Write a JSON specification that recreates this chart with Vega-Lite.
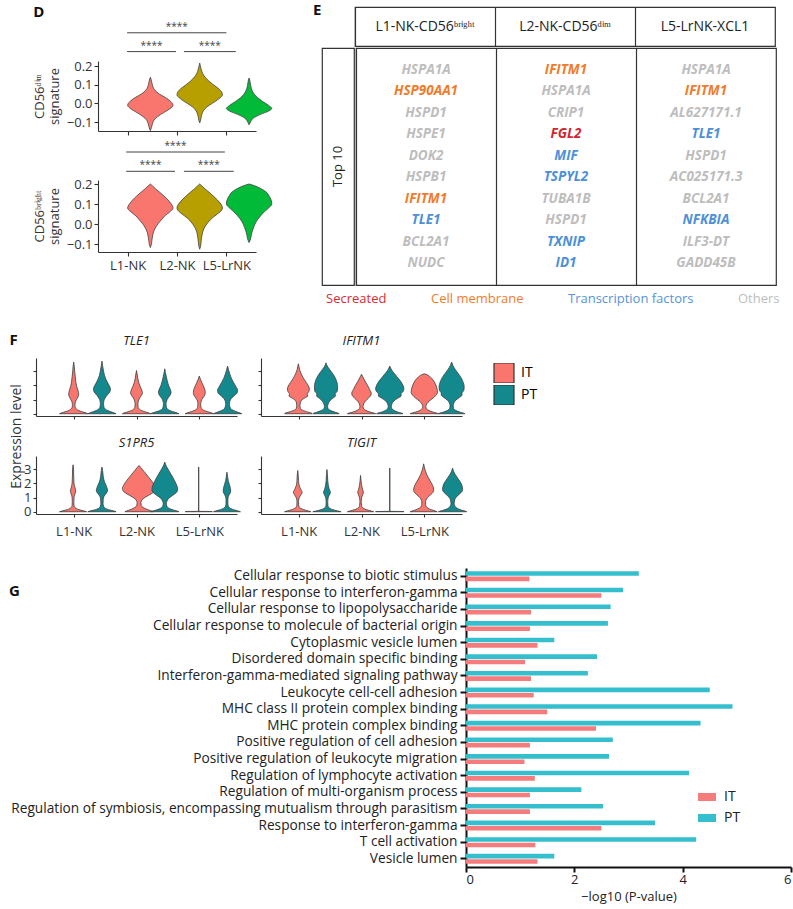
{
"$schema":"https://vega.github.io/schema/vega-lite/v6.json",
"background":"white",
"padding":{"left":2,"top":3,"right":2,"bottom":2},
"config":{
 "view":{"stroke":null},
 "font":"Open Sans",
 "axis":{"grid":false,"domainColor":"#333","tickColor":"#333","labelColor":"#333","titleColor":"#333","labelFont":"Open Sans","titleFont":"Open Sans","titleFontWeight":"normal","domainWidth":1.1,"tickWidth":1.1},
 "title":{"font":"Open Sans","fontWeight":"bold","fontSize":15,"anchor":"start","color":"#111"},
 "legend":{"labelFont":"Open Sans","titleFont":"Open Sans"},
 "text":{"font":"Open Sans"}
},
"datasets":{
 "sig":[
  {"p":"dim","id":1,"a":0.99,"b":1.98,"lvl":1,"s":"****"},
  {"p":"dim","id":2,"a":2.14,"b":3.19,"lvl":1,"s":"****"},
  {"p":"dim","id":3,"a":0.99,"b":3.0,"lvl":2,"s":"****"},
  {"p":"bright","id":4,"a":0.97,"b":1.96,"lvl":1,"s":"****"},
  {"p":"bright","id":5,"a":2.14,"b":3.15,"lvl":1,"s":"****"},
  {"p":"bright","id":6,"a":0.97,"b":2.97,"lvl":2,"s":"****"}
 ],
 "dv":[
  {"p":"dim","c":"L1","y":-0.146,"w":0},{"p":"dim","c":"L1","y":-0.13,"w":0.05},{"p":"dim","c":"L1","y":-0.11,"w":0.09},{"p":"dim","c":"L1","y":-0.09,"w":0.16},{"p":"dim","c":"L1","y":-0.07,"w":0.33},{"p":"dim","c":"L1","y":-0.05,"w":0.58},{"p":"dim","c":"L1","y":-0.03,"w":0.85},{"p":"dim","c":"L1","y":-0.01,"w":1.0},{"p":"dim","c":"L1","y":0.01,"w":0.9},{"p":"dim","c":"L1","y":0.03,"w":0.68},{"p":"dim","c":"L1","y":0.05,"w":0.4},{"p":"dim","c":"L1","y":0.07,"w":0.2},{"p":"dim","c":"L1","y":0.09,"w":0.11},{"p":"dim","c":"L1","y":0.11,"w":0.07},{"p":"dim","c":"L1","y":0.13,"w":0.03},{"p":"dim","c":"L1","y":0.14,"w":0},
  {"p":"dim","c":"L2","y":-0.105,"w":0},{"p":"dim","c":"L2","y":-0.09,"w":0.04},{"p":"dim","c":"L2","y":-0.07,"w":0.07},{"p":"dim","c":"L2","y":-0.05,"w":0.12},{"p":"dim","c":"L2","y":-0.03,"w":0.22},{"p":"dim","c":"L2","y":-0.01,"w":0.42},{"p":"dim","c":"L2","y":0.01,"w":0.68},{"p":"dim","c":"L2","y":0.03,"w":0.9},{"p":"dim","c":"L2","y":0.045,"w":1.0},{"p":"dim","c":"L2","y":0.06,"w":0.97},{"p":"dim","c":"L2","y":0.08,"w":0.82},{"p":"dim","c":"L2","y":0.1,"w":0.6},{"p":"dim","c":"L2","y":0.12,"w":0.4},{"p":"dim","c":"L2","y":0.14,"w":0.24},{"p":"dim","c":"L2","y":0.16,"w":0.13},{"p":"dim","c":"L2","y":0.18,"w":0.07},{"p":"dim","c":"L2","y":0.2,"w":0.03},{"p":"dim","c":"L2","y":0.216,"w":0},
  {"p":"dim","c":"L5","y":-0.115,"w":0},{"p":"dim","c":"L5","y":-0.1,"w":0.06},{"p":"dim","c":"L5","y":-0.08,"w":0.18},{"p":"dim","c":"L5","y":-0.06,"w":0.48},{"p":"dim","c":"L5","y":-0.04,"w":0.88},{"p":"dim","c":"L5","y":-0.028,"w":1.0},{"p":"dim","c":"L5","y":-0.01,"w":0.85},{"p":"dim","c":"L5","y":0.01,"w":0.6},{"p":"dim","c":"L5","y":0.03,"w":0.38},{"p":"dim","c":"L5","y":0.05,"w":0.22},{"p":"dim","c":"L5","y":0.07,"w":0.13},{"p":"dim","c":"L5","y":0.09,"w":0.08},{"p":"dim","c":"L5","y":0.11,"w":0.05},{"p":"dim","c":"L5","y":0.125,"w":0.03},{"p":"dim","c":"L5","y":0.136,"w":0},
  {"p":"bright","c":"L1","y":-0.118,"w":0},{"p":"bright","c":"L1","y":-0.1,"w":0.05},{"p":"bright","c":"L1","y":-0.08,"w":0.07},{"p":"bright","c":"L1","y":-0.06,"w":0.1},{"p":"bright","c":"L1","y":-0.04,"w":0.14},{"p":"bright","c":"L1","y":-0.02,"w":0.22},{"p":"bright","c":"L1","y":0,"w":0.33},{"p":"bright","c":"L1","y":0.02,"w":0.48},{"p":"bright","c":"L1","y":0.04,"w":0.63},{"p":"bright","c":"L1","y":0.06,"w":0.85},{"p":"bright","c":"L1","y":0.08,"w":1.0},{"p":"bright","c":"L1","y":0.1,"w":0.92},{"p":"bright","c":"L1","y":0.12,"w":0.78},{"p":"bright","c":"L1","y":0.14,"w":0.6},{"p":"bright","c":"L1","y":0.16,"w":0.4},{"p":"bright","c":"L1","y":0.175,"w":0.24},{"p":"bright","c":"L1","y":0.19,"w":0.1},{"p":"bright","c":"L1","y":0.2,"w":0},
  {"p":"bright","c":"L2","y":-0.126,"w":0},{"p":"bright","c":"L2","y":-0.11,"w":0.04},{"p":"bright","c":"L2","y":-0.09,"w":0.06},{"p":"bright","c":"L2","y":-0.07,"w":0.08},{"p":"bright","c":"L2","y":-0.05,"w":0.11},{"p":"bright","c":"L2","y":-0.03,"w":0.16},{"p":"bright","c":"L2","y":-0.01,"w":0.25},{"p":"bright","c":"L2","y":0.01,"w":0.38},{"p":"bright","c":"L2","y":0.03,"w":0.55},{"p":"bright","c":"L2","y":0.05,"w":0.78},{"p":"bright","c":"L2","y":0.07,"w":0.97},{"p":"bright","c":"L2","y":0.08,"w":1.0},{"p":"bright","c":"L2","y":0.1,"w":0.93},{"p":"bright","c":"L2","y":0.12,"w":0.78},{"p":"bright","c":"L2","y":0.14,"w":0.6},{"p":"bright","c":"L2","y":0.16,"w":0.4},{"p":"bright","c":"L2","y":0.175,"w":0.24},{"p":"bright","c":"L2","y":0.19,"w":0.1},{"p":"bright","c":"L2","y":0.2,"w":0},
  {"p":"bright","c":"L5","y":-0.093,"w":0},{"p":"bright","c":"L5","y":-0.08,"w":0.05},{"p":"bright","c":"L5","y":-0.06,"w":0.09},{"p":"bright","c":"L5","y":-0.04,"w":0.13},{"p":"bright","c":"L5","y":-0.02,"w":0.19},{"p":"bright","c":"L5","y":0,"w":0.26},{"p":"bright","c":"L5","y":0.02,"w":0.36},{"p":"bright","c":"L5","y":0.04,"w":0.5},{"p":"bright","c":"L5","y":0.06,"w":0.66},{"p":"bright","c":"L5","y":0.08,"w":0.86},{"p":"bright","c":"L5","y":0.1,"w":1.0},{"p":"bright","c":"L5","y":0.12,"w":0.97},{"p":"bright","c":"L5","y":0.14,"w":0.88},{"p":"bright","c":"L5","y":0.16,"w":0.75},{"p":"bright","c":"L5","y":0.175,"w":0.55},{"p":"bright","c":"L5","y":0.185,"w":0.38},{"p":"bright","c":"L5","y":0.195,"w":0.15},{"p":"bright","c":"L5","y":0.2,"w":0}
 ],
 "hdr":[{"col":"L1-NK-CD56ᵇʳⁱᵍʰᵗ"},{"col":"L2-NK-CD56ᵈⁱᵐ"},{"col":"L5-LrNK-XCL1"}],
 "genes":[
  {"col":"L1-NK-CD56ᵇʳⁱᵍʰᵗ","rank":1,"gene":"HSPA1A","type":"Others"},
  {"col":"L1-NK-CD56ᵇʳⁱᵍʰᵗ","rank":2,"gene":"HSP90AA1","type":"Cell membrane"},
  {"col":"L1-NK-CD56ᵇʳⁱᵍʰᵗ","rank":3,"gene":"HSPD1","type":"Others"},
  {"col":"L1-NK-CD56ᵇʳⁱᵍʰᵗ","rank":4,"gene":"HSPE1","type":"Others"},
  {"col":"L1-NK-CD56ᵇʳⁱᵍʰᵗ","rank":5,"gene":"DOK2","type":"Others"},
  {"col":"L1-NK-CD56ᵇʳⁱᵍʰᵗ","rank":6,"gene":"HSPB1","type":"Others"},
  {"col":"L1-NK-CD56ᵇʳⁱᵍʰᵗ","rank":7,"gene":"IFITM1","type":"Cell membrane"},
  {"col":"L1-NK-CD56ᵇʳⁱᵍʰᵗ","rank":8,"gene":"TLE1","type":"Transcription factors"},
  {"col":"L1-NK-CD56ᵇʳⁱᵍʰᵗ","rank":9,"gene":"BCL2A1","type":"Others"},
  {"col":"L1-NK-CD56ᵇʳⁱᵍʰᵗ","rank":10,"gene":"NUDC","type":"Others"},
  {"col":"L2-NK-CD56ᵈⁱᵐ","rank":1,"gene":"IFITM1","type":"Cell membrane"},
  {"col":"L2-NK-CD56ᵈⁱᵐ","rank":2,"gene":"HSPA1A","type":"Others"},
  {"col":"L2-NK-CD56ᵈⁱᵐ","rank":3,"gene":"CRIP1","type":"Others"},
  {"col":"L2-NK-CD56ᵈⁱᵐ","rank":4,"gene":"FGL2","type":"Secreated"},
  {"col":"L2-NK-CD56ᵈⁱᵐ","rank":5,"gene":"MIF","type":"Transcription factors"},
  {"col":"L2-NK-CD56ᵈⁱᵐ","rank":6,"gene":"TSPYL2","type":"Transcription factors"},
  {"col":"L2-NK-CD56ᵈⁱᵐ","rank":7,"gene":"TUBA1B","type":"Others"},
  {"col":"L2-NK-CD56ᵈⁱᵐ","rank":8,"gene":"HSPD1","type":"Others"},
  {"col":"L2-NK-CD56ᵈⁱᵐ","rank":9,"gene":"TXNIP","type":"Transcription factors"},
  {"col":"L2-NK-CD56ᵈⁱᵐ","rank":10,"gene":"ID1","type":"Transcription factors"},
  {"col":"L5-LrNK-XCL1","rank":1,"gene":"HSPA1A","type":"Others"},
  {"col":"L5-LrNK-XCL1","rank":2,"gene":"IFITM1","type":"Cell membrane"},
  {"col":"L5-LrNK-XCL1","rank":3,"gene":"AL627171.1","type":"Others"},
  {"col":"L5-LrNK-XCL1","rank":4,"gene":"TLE1","type":"Transcription factors"},
  {"col":"L5-LrNK-XCL1","rank":5,"gene":"HSPD1","type":"Others"},
  {"col":"L5-LrNK-XCL1","rank":6,"gene":"AC025171.3","type":"Others"},
  {"col":"L5-LrNK-XCL1","rank":7,"gene":"BCL2A1","type":"Others"},
  {"col":"L5-LrNK-XCL1","rank":8,"gene":"NFKBIA","type":"Transcription factors"},
  {"col":"L5-LrNK-XCL1","rank":9,"gene":"ILF3-DT","type":"Others"},
  {"col":"L5-LrNK-XCL1","rank":10,"gene":"GADD45B","type":"Others"}
 ],
 "tle1":[
  {"c":"L1","t":"IT","y":0,"w":0.45},{"c":"L1","t":"IT","y":0.05,"w":0.4},{"c":"L1","t":"IT","y":0.15,"w":0.25},{"c":"L1","t":"IT","y":0.3,"w":0.1},{"c":"L1","t":"IT","y":0.45,"w":0.05},{"c":"L1","t":"IT","y":0.6,"w":0.04},{"c":"L1","t":"IT","y":0.8,"w":0.05},{"c":"L1","t":"IT","y":1.0,"w":0.09},{"c":"L1","t":"IT","y":1.2,"w":0.14},{"c":"L1","t":"IT","y":1.4,"w":0.16},{"c":"L1","t":"IT","y":1.6,"w":0.14},{"c":"L1","t":"IT","y":1.9,"w":0.1},{"c":"L1","t":"IT","y":2.2,"w":0.07},{"c":"L1","t":"IT","y":2.6,"w":0.05},{"c":"L1","t":"IT","y":3.0,"w":0.03},{"c":"L1","t":"IT","y":3.3,"w":0.02},{"c":"L1","t":"IT","y":3.63,"w":0},
  {"c":"L1","t":"PT","y":0,"w":0.45},{"c":"L1","t":"PT","y":0.05,"w":0.4},{"c":"L1","t":"PT","y":0.15,"w":0.27},{"c":"L1","t":"PT","y":0.3,"w":0.12},{"c":"L1","t":"PT","y":0.5,"w":0.06},{"c":"L1","t":"PT","y":0.7,"w":0.05},{"c":"L1","t":"PT","y":0.9,"w":0.06},{"c":"L1","t":"PT","y":1.1,"w":0.1},{"c":"L1","t":"PT","y":1.3,"w":0.16},{"c":"L1","t":"PT","y":1.5,"w":0.24},{"c":"L1","t":"PT","y":1.7,"w":0.27},{"c":"L1","t":"PT","y":1.85,"w":0.26},{"c":"L1","t":"PT","y":2.1,"w":0.2},{"c":"L1","t":"PT","y":2.4,"w":0.13},{"c":"L1","t":"PT","y":2.7,"w":0.08},{"c":"L1","t":"PT","y":3.0,"w":0.05},{"c":"L1","t":"PT","y":3.4,"w":0.02},{"c":"L1","t":"PT","y":3.7,"w":0},
  {"c":"L2","t":"IT","y":0,"w":0.45},{"c":"L2","t":"IT","y":0.05,"w":0.4},{"c":"L2","t":"IT","y":0.15,"w":0.25},{"c":"L2","t":"IT","y":0.3,"w":0.1},{"c":"L2","t":"IT","y":0.5,"w":0.05},{"c":"L2","t":"IT","y":0.7,"w":0.045},{"c":"L2","t":"IT","y":0.9,"w":0.06},{"c":"L2","t":"IT","y":1.1,"w":0.1},{"c":"L2","t":"IT","y":1.3,"w":0.16},{"c":"L2","t":"IT","y":1.48,"w":0.19},{"c":"L2","t":"IT","y":1.65,"w":0.17},{"c":"L2","t":"IT","y":1.9,"w":0.12},{"c":"L2","t":"IT","y":2.2,"w":0.07},{"c":"L2","t":"IT","y":2.5,"w":0.04},{"c":"L2","t":"IT","y":2.8,"w":0.02},{"c":"L2","t":"IT","y":3.04,"w":0},
  {"c":"L2","t":"PT","y":0,"w":0.45},{"c":"L2","t":"PT","y":0.05,"w":0.4},{"c":"L2","t":"PT","y":0.15,"w":0.25},{"c":"L2","t":"PT","y":0.3,"w":0.1},{"c":"L2","t":"PT","y":0.5,"w":0.05},{"c":"L2","t":"PT","y":0.7,"w":0.04},{"c":"L2","t":"PT","y":0.9,"w":0.06},{"c":"L2","t":"PT","y":1.1,"w":0.1},{"c":"L2","t":"PT","y":1.3,"w":0.17},{"c":"L2","t":"PT","y":1.5,"w":0.2},{"c":"L2","t":"PT","y":1.7,"w":0.18},{"c":"L2","t":"PT","y":2.0,"w":0.12},{"c":"L2","t":"PT","y":2.3,"w":0.08},{"c":"L2","t":"PT","y":2.6,"w":0.05},{"c":"L2","t":"PT","y":2.9,"w":0.02},{"c":"L2","t":"PT","y":3.16,"w":0},
  {"c":"L5","t":"IT","y":0,"w":0.45},{"c":"L5","t":"IT","y":0.05,"w":0.4},{"c":"L5","t":"IT","y":0.15,"w":0.25},{"c":"L5","t":"IT","y":0.3,"w":0.1},{"c":"L5","t":"IT","y":0.5,"w":0.05},{"c":"L5","t":"IT","y":0.7,"w":0.045},{"c":"L5","t":"IT","y":0.9,"w":0.06},{"c":"L5","t":"IT","y":1.1,"w":0.11},{"c":"L5","t":"IT","y":1.3,"w":0.17},{"c":"L5","t":"IT","y":1.5,"w":0.19},{"c":"L5","t":"IT","y":1.8,"w":0.16},{"c":"L5","t":"IT","y":2.0,"w":0.12},{"c":"L5","t":"IT","y":2.2,"w":0.08},{"c":"L5","t":"IT","y":2.4,"w":0.04},{"c":"L5","t":"IT","y":2.65,"w":0},
  {"c":"L5","t":"PT","y":0,"w":0.45},{"c":"L5","t":"PT","y":0.05,"w":0.4},{"c":"L5","t":"PT","y":0.15,"w":0.27},{"c":"L5","t":"PT","y":0.3,"w":0.13},{"c":"L5","t":"PT","y":0.45,"w":0.08},{"c":"L5","t":"PT","y":0.65,"w":0.06},{"c":"L5","t":"PT","y":0.85,"w":0.07},{"c":"L5","t":"PT","y":1.05,"w":0.11},{"c":"L5","t":"PT","y":1.25,"w":0.2},{"c":"L5","t":"PT","y":1.45,"w":0.3},{"c":"L5","t":"PT","y":1.65,"w":0.32},{"c":"L5","t":"PT","y":1.9,"w":0.27},{"c":"L5","t":"PT","y":2.2,"w":0.19},{"c":"L5","t":"PT","y":2.5,"w":0.12},{"c":"L5","t":"PT","y":2.8,"w":0.07},{"c":"L5","t":"PT","y":3.1,"w":0.03},{"c":"L5","t":"PT","y":3.35,"w":0}
 ],
 "ifitm1":[
  {"c":"L1","t":"IT","y":0,"w":0.44},{"c":"L1","t":"IT","y":0.04,"w":0.42},{"c":"L1","t":"IT","y":0.12,"w":0.3},{"c":"L1","t":"IT","y":0.25,"w":0.13},{"c":"L1","t":"IT","y":0.4,"w":0.06},{"c":"L1","t":"IT","y":0.55,"w":0.05},{"c":"L1","t":"IT","y":0.75,"w":0.06},{"c":"L1","t":"IT","y":0.95,"w":0.1},{"c":"L1","t":"IT","y":1.1,"w":0.2},{"c":"L1","t":"IT","y":1.25,"w":0.3},{"c":"L1","t":"IT","y":1.38,"w":0.28},{"c":"L1","t":"IT","y":1.55,"w":0.33},{"c":"L1","t":"IT","y":1.75,"w":0.35},{"c":"L1","t":"IT","y":1.95,"w":0.32},{"c":"L1","t":"IT","y":2.2,"w":0.25},{"c":"L1","t":"IT","y":2.5,"w":0.16},{"c":"L1","t":"IT","y":2.8,"w":0.09},{"c":"L1","t":"IT","y":3.1,"w":0.04},{"c":"L1","t":"IT","y":3.35,"w":0.015},{"c":"L1","t":"IT","y":3.51,"w":0},
  {"c":"L1","t":"PT","y":0,"w":0.42},{"c":"L1","t":"PT","y":0.03,"w":0.4},{"c":"L1","t":"PT","y":0.1,"w":0.3},{"c":"L1","t":"PT","y":0.22,"w":0.15},{"c":"L1","t":"PT","y":0.35,"w":0.07},{"c":"L1","t":"PT","y":0.5,"w":0.05},{"c":"L1","t":"PT","y":0.7,"w":0.07},{"c":"L1","t":"PT","y":0.9,"w":0.12},{"c":"L1","t":"PT","y":1.1,"w":0.22},{"c":"L1","t":"PT","y":1.25,"w":0.3},{"c":"L1","t":"PT","y":1.38,"w":0.29},{"c":"L1","t":"PT","y":1.6,"w":0.36},{"c":"L1","t":"PT","y":1.9,"w":0.37},{"c":"L1","t":"PT","y":2.2,"w":0.35},{"c":"L1","t":"PT","y":2.5,"w":0.3},{"c":"L1","t":"PT","y":2.8,"w":0.22},{"c":"L1","t":"PT","y":3.1,"w":0.12},{"c":"L1","t":"PT","y":3.35,"w":0.04},{"c":"L1","t":"PT","y":3.58,"w":0},
  {"c":"L2","t":"IT","y":0,"w":0.45},{"c":"L2","t":"IT","y":0.03,"w":0.42},{"c":"L2","t":"IT","y":0.1,"w":0.3},{"c":"L2","t":"IT","y":0.22,"w":0.15},{"c":"L2","t":"IT","y":0.35,"w":0.07},{"c":"L2","t":"IT","y":0.5,"w":0.05},{"c":"L2","t":"IT","y":0.7,"w":0.07},{"c":"L2","t":"IT","y":0.9,"w":0.13},{"c":"L2","t":"IT","y":1.1,"w":0.22},{"c":"L2","t":"IT","y":1.3,"w":0.3},{"c":"L2","t":"IT","y":1.45,"w":0.31},{"c":"L2","t":"IT","y":1.7,"w":0.26},{"c":"L2","t":"IT","y":2.0,"w":0.19},{"c":"L2","t":"IT","y":2.3,"w":0.11},{"c":"L2","t":"IT","y":2.6,"w":0.04},{"c":"L2","t":"IT","y":2.77,"w":0},
  {"c":"L2","t":"PT","y":0,"w":0.42},{"c":"L2","t":"PT","y":0.03,"w":0.4},{"c":"L2","t":"PT","y":0.1,"w":0.28},{"c":"L2","t":"PT","y":0.22,"w":0.15},{"c":"L2","t":"PT","y":0.35,"w":0.07},{"c":"L2","t":"PT","y":0.5,"w":0.05},{"c":"L2","t":"PT","y":0.7,"w":0.07},{"c":"L2","t":"PT","y":0.9,"w":0.13},{"c":"L2","t":"PT","y":1.1,"w":0.26},{"c":"L2","t":"PT","y":1.25,"w":0.36},{"c":"L2","t":"PT","y":1.4,"w":0.36},{"c":"L2","t":"PT","y":1.55,"w":0.42},{"c":"L2","t":"PT","y":1.75,"w":0.45},{"c":"L2","t":"PT","y":2.0,"w":0.42},{"c":"L2","t":"PT","y":2.3,"w":0.34},{"c":"L2","t":"PT","y":2.6,"w":0.23},{"c":"L2","t":"PT","y":2.9,"w":0.12},{"c":"L2","t":"PT","y":3.15,"w":0.04},{"c":"L2","t":"PT","y":3.35,"w":0},
  {"c":"L5","t":"IT","y":0,"w":0.45},{"c":"L5","t":"IT","y":0.03,"w":0.42},{"c":"L5","t":"IT","y":0.1,"w":0.3},{"c":"L5","t":"IT","y":0.22,"w":0.15},{"c":"L5","t":"IT","y":0.35,"w":0.07},{"c":"L5","t":"IT","y":0.5,"w":0.05},{"c":"L5","t":"IT","y":0.7,"w":0.08},{"c":"L5","t":"IT","y":0.9,"w":0.16},{"c":"L5","t":"IT","y":1.1,"w":0.28},{"c":"L5","t":"IT","y":1.3,"w":0.37},{"c":"L5","t":"IT","y":1.5,"w":0.42},{"c":"L5","t":"IT","y":1.8,"w":0.4},{"c":"L5","t":"IT","y":2.1,"w":0.35},{"c":"L5","t":"IT","y":2.4,"w":0.27},{"c":"L5","t":"IT","y":2.6,"w":0.18},{"c":"L5","t":"IT","y":2.75,"w":0.08},{"c":"L5","t":"IT","y":2.81,"w":0},
  {"c":"L5","t":"PT","y":0,"w":0.42},{"c":"L5","t":"PT","y":0.03,"w":0.4},{"c":"L5","t":"PT","y":0.1,"w":0.28},{"c":"L5","t":"PT","y":0.22,"w":0.14},{"c":"L5","t":"PT","y":0.38,"w":0.06},{"c":"L5","t":"PT","y":0.55,"w":0.05},{"c":"L5","t":"PT","y":0.75,"w":0.07},{"c":"L5","t":"PT","y":0.95,"w":0.13},{"c":"L5","t":"PT","y":1.15,"w":0.25},{"c":"L5","t":"PT","y":1.3,"w":0.33},{"c":"L5","t":"PT","y":1.45,"w":0.33},{"c":"L5","t":"PT","y":1.65,"w":0.39},{"c":"L5","t":"PT","y":1.9,"w":0.4},{"c":"L5","t":"PT","y":2.2,"w":0.37},{"c":"L5","t":"PT","y":2.5,"w":0.31},{"c":"L5","t":"PT","y":2.8,"w":0.22},{"c":"L5","t":"PT","y":3.1,"w":0.12},{"c":"L5","t":"PT","y":3.4,"w":0.04},{"c":"L5","t":"PT","y":3.63,"w":0}
 ],
 "s1pr5":[
  {"c":"L1","t":"IT","y":0,"w":0.43},{"c":"L1","t":"IT","y":0.05,"w":0.35},{"c":"L1","t":"IT","y":0.15,"w":0.18},{"c":"L1","t":"IT","y":0.3,"w":0.06},{"c":"L1","t":"IT","y":0.45,"w":0.03},{"c":"L1","t":"IT","y":0.7,"w":0.025},{"c":"L1","t":"IT","y":1.0,"w":0.03},{"c":"L1","t":"IT","y":1.25,"w":0.06},{"c":"L1","t":"IT","y":1.45,"w":0.085},{"c":"L1","t":"IT","y":1.7,"w":0.06},{"c":"L1","t":"IT","y":2.0,"w":0.03},{"c":"L1","t":"IT","y":2.5,"w":0.02},{"c":"L1","t":"IT","y":3.0,"w":0.015},{"c":"L1","t":"IT","y":3.3,"w":0},
  {"c":"L1","t":"PT","y":0,"w":0.45},{"c":"L1","t":"PT","y":0.04,"w":0.4},{"c":"L1","t":"PT","y":0.12,"w":0.25},{"c":"L1","t":"PT","y":0.25,"w":0.1},{"c":"L1","t":"PT","y":0.4,"w":0.05},{"c":"L1","t":"PT","y":0.6,"w":0.035},{"c":"L1","t":"PT","y":0.85,"w":0.04},{"c":"L1","t":"PT","y":1.1,"w":0.07},{"c":"L1","t":"PT","y":1.3,"w":0.14},{"c":"L1","t":"PT","y":1.5,"w":0.18},{"c":"L1","t":"PT","y":1.8,"w":0.14},{"c":"L1","t":"PT","y":2.1,"w":0.08},{"c":"L1","t":"PT","y":2.5,"w":0.04},{"c":"L1","t":"PT","y":2.9,"w":0.02},{"c":"L1","t":"PT","y":3.14,"w":0},
  {"c":"L2","t":"IT","y":0,"w":0.45},{"c":"L2","t":"IT","y":0.05,"w":0.4},{"c":"L2","t":"IT","y":0.15,"w":0.27},{"c":"L2","t":"IT","y":0.3,"w":0.13},{"c":"L2","t":"IT","y":0.45,"w":0.07},{"c":"L2","t":"IT","y":0.65,"w":0.06},{"c":"L2","t":"IT","y":0.85,"w":0.1},{"c":"L2","t":"IT","y":1.05,"w":0.22},{"c":"L2","t":"IT","y":1.25,"w":0.38},{"c":"L2","t":"IT","y":1.45,"w":0.5},{"c":"L2","t":"IT","y":1.65,"w":0.53},{"c":"L2","t":"IT","y":1.9,"w":0.48},{"c":"L2","t":"IT","y":2.2,"w":0.39},{"c":"L2","t":"IT","y":2.5,"w":0.28},{"c":"L2","t":"IT","y":2.8,"w":0.17},{"c":"L2","t":"IT","y":3.1,"w":0.06},{"c":"L2","t":"IT","y":3.25,"w":0},
  {"c":"L2","t":"PT","y":0,"w":0.45},{"c":"L2","t":"PT","y":0.03,"w":0.42},{"c":"L2","t":"PT","y":0.1,"w":0.3},{"c":"L2","t":"PT","y":0.22,"w":0.15},{"c":"L2","t":"PT","y":0.38,"w":0.07},{"c":"L2","t":"PT","y":0.55,"w":0.05},{"c":"L2","t":"PT","y":0.75,"w":0.07},{"c":"L2","t":"PT","y":0.95,"w":0.13},{"c":"L2","t":"PT","y":1.15,"w":0.25},{"c":"L2","t":"PT","y":1.35,"w":0.37},{"c":"L2","t":"PT","y":1.55,"w":0.41},{"c":"L2","t":"PT","y":1.8,"w":0.39},{"c":"L2","t":"PT","y":2.1,"w":0.33},{"c":"L2","t":"PT","y":2.4,"w":0.26},{"c":"L2","t":"PT","y":2.7,"w":0.18},{"c":"L2","t":"PT","y":3.0,"w":0.1},{"c":"L2","t":"PT","y":3.3,"w":0.03},{"c":"L2","t":"PT","y":3.49,"w":0},
  {"c":"L5","t":"IT","y":0,"w":0.43},{"c":"L5","t":"IT","y":0.012,"w":0.43},{"c":"L5","t":"IT","y":0.03,"w":0.003},{"c":"L5","t":"IT","y":3.14,"w":0.003},
  {"c":"L5","t":"PT","y":0,"w":0.43},{"c":"L5","t":"PT","y":0.04,"w":0.38},{"c":"L5","t":"PT","y":0.12,"w":0.25},{"c":"L5","t":"PT","y":0.25,"w":0.1},{"c":"L5","t":"PT","y":0.4,"w":0.045},{"c":"L5","t":"PT","y":0.6,"w":0.03},{"c":"L5","t":"PT","y":0.85,"w":0.03},{"c":"L5","t":"PT","y":1.1,"w":0.05},{"c":"L5","t":"PT","y":1.3,"w":0.1},{"c":"L5","t":"PT","y":1.48,"w":0.12},{"c":"L5","t":"PT","y":1.65,"w":0.11},{"c":"L5","t":"PT","y":1.9,"w":0.08},{"c":"L5","t":"PT","y":2.2,"w":0.04},{"c":"L5","t":"PT","y":2.5,"w":0.02},{"c":"L5","t":"PT","y":2.78,"w":0}
 ],
 "tigit":[
  {"c":"L1","t":"IT","y":0,"w":0.42},{"c":"L1","t":"IT","y":0.05,"w":0.34},{"c":"L1","t":"IT","y":0.15,"w":0.18},{"c":"L1","t":"IT","y":0.3,"w":0.06},{"c":"L1","t":"IT","y":0.45,"w":0.03},{"c":"L1","t":"IT","y":0.7,"w":0.025},{"c":"L1","t":"IT","y":0.95,"w":0.04},{"c":"L1","t":"IT","y":1.15,"w":0.09},{"c":"L1","t":"IT","y":1.35,"w":0.14},{"c":"L1","t":"IT","y":1.6,"w":0.09},{"c":"L1","t":"IT","y":1.9,"w":0.04},{"c":"L1","t":"IT","y":2.2,"w":0.025},{"c":"L1","t":"IT","y":2.6,"w":0.015},{"c":"L1","t":"IT","y":2.9,"w":0},
  {"c":"L1","t":"PT","y":0,"w":0.45},{"c":"L1","t":"PT","y":0.05,"w":0.35},{"c":"L1","t":"PT","y":0.15,"w":0.18},{"c":"L1","t":"PT","y":0.3,"w":0.06},{"c":"L1","t":"PT","y":0.45,"w":0.03},{"c":"L1","t":"PT","y":0.7,"w":0.025},{"c":"L1","t":"PT","y":0.95,"w":0.035},{"c":"L1","t":"PT","y":1.15,"w":0.07},{"c":"L1","t":"PT","y":1.35,"w":0.11},{"c":"L1","t":"PT","y":1.6,"w":0.07},{"c":"L1","t":"PT","y":1.9,"w":0.04},{"c":"L1","t":"PT","y":2.2,"w":0.025},{"c":"L1","t":"PT","y":2.6,"w":0.015},{"c":"L1","t":"PT","y":2.97,"w":0},
  {"c":"L2","t":"IT","y":0,"w":0.42},{"c":"L2","t":"IT","y":0.05,"w":0.34},{"c":"L2","t":"IT","y":0.15,"w":0.18},{"c":"L2","t":"IT","y":0.3,"w":0.06},{"c":"L2","t":"IT","y":0.45,"w":0.03},{"c":"L2","t":"IT","y":0.7,"w":0.02},{"c":"L2","t":"IT","y":0.95,"w":0.03},{"c":"L2","t":"IT","y":1.15,"w":0.06},{"c":"L2","t":"IT","y":1.35,"w":0.09},{"c":"L2","t":"IT","y":1.6,"w":0.06},{"c":"L2","t":"IT","y":1.9,"w":0.03},{"c":"L2","t":"IT","y":2.2,"w":0.015},{"c":"L2","t":"IT","y":2.55,"w":0},
  {"c":"L2","t":"PT","y":0,"w":0.45},{"c":"L2","t":"PT","y":0.012,"w":0.45},{"c":"L2","t":"PT","y":0.03,"w":0.003},{"c":"L2","t":"PT","y":3.07,"w":0.003},
  {"c":"L5","t":"IT","y":0,"w":0.43},{"c":"L5","t":"IT","y":0.08,"w":0.33},{"c":"L5","t":"IT","y":0.2,"w":0.18},{"c":"L5","t":"IT","y":0.35,"w":0.09},{"c":"L5","t":"IT","y":0.5,"w":0.06},{"c":"L5","t":"IT","y":0.7,"w":0.06},{"c":"L5","t":"IT","y":0.9,"w":0.09},{"c":"L5","t":"IT","y":1.1,"w":0.17},{"c":"L5","t":"IT","y":1.3,"w":0.27},{"c":"L5","t":"IT","y":1.5,"w":0.32},{"c":"L5","t":"IT","y":1.7,"w":0.31},{"c":"L5","t":"IT","y":2.0,"w":0.25},{"c":"L5","t":"IT","y":2.3,"w":0.17},{"c":"L5","t":"IT","y":2.6,"w":0.1},{"c":"L5","t":"IT","y":2.9,"w":0.05},{"c":"L5","t":"IT","y":3.15,"w":0.02},{"c":"L5","t":"IT","y":3.37,"w":0},
  {"c":"L5","t":"PT","y":0,"w":0.45},{"c":"L5","t":"PT","y":0.03,"w":0.42},{"c":"L5","t":"PT","y":0.1,"w":0.3},{"c":"L5","t":"PT","y":0.22,"w":0.16},{"c":"L5","t":"PT","y":0.38,"w":0.08},{"c":"L5","t":"PT","y":0.55,"w":0.05},{"c":"L5","t":"PT","y":0.75,"w":0.06},{"c":"L5","t":"PT","y":0.95,"w":0.09},{"c":"L5","t":"PT","y":1.15,"w":0.17},{"c":"L5","t":"PT","y":1.35,"w":0.27},{"c":"L5","t":"PT","y":1.55,"w":0.32},{"c":"L5","t":"PT","y":1.75,"w":0.31},{"c":"L5","t":"PT","y":2.0,"w":0.27},{"c":"L5","t":"PT","y":2.3,"w":0.18},{"c":"L5","t":"PT","y":2.6,"w":0.09},{"c":"L5","t":"PT","y":2.85,"w":0.03},{"c":"L5","t":"PT","y":3.07,"w":0}
 ],
 "go":[
  {"term":"Cellular response to biotic stimulus","tissue":"PT","val":3.19},{"term":"Cellular response to biotic stimulus","tissue":"IT","val":1.17},
  {"term":"Cellular response to interferon-gamma","tissue":"PT","val":2.9},{"term":"Cellular response to interferon-gamma","tissue":"IT","val":2.5},
  {"term":"Cellular response to lipopolysaccharide","tissue":"PT","val":2.67},{"term":"Cellular response to lipopolysaccharide","tissue":"IT","val":1.2},
  {"term":"Cellular response to molecule of bacterial origin","tissue":"PT","val":2.62},{"term":"Cellular response to molecule of bacterial origin","tissue":"IT","val":1.18},
  {"term":"Cytoplasmic vesicle lumen","tissue":"PT","val":1.63},{"term":"Cytoplasmic vesicle lumen","tissue":"IT","val":1.32},
  {"term":"Disordered domain specific binding","tissue":"PT","val":2.42},{"term":"Disordered domain specific binding","tissue":"IT","val":1.09},
  {"term":"Interferon-gamma-mediated signaling pathway","tissue":"PT","val":2.25},{"term":"Interferon-gamma-mediated signaling pathway","tissue":"IT","val":1.2},
  {"term":"Leukocyte cell-cell adhesion","tissue":"PT","val":4.5},{"term":"Leukocyte cell-cell adhesion","tissue":"IT","val":1.25},
  {"term":"MHC class II protein complex binding","tissue":"PT","val":4.92},{"term":"MHC class II protein complex binding","tissue":"IT","val":1.5},
  {"term":"MHC protein complex binding","tissue":"PT","val":4.33},{"term":"MHC protein complex binding","tissue":"IT","val":2.4},
  {"term":"Positive regulation of cell adhesion","tissue":"PT","val":2.71},{"term":"Positive regulation of cell adhesion","tissue":"IT","val":1.18},
  {"term":"Positive regulation of leukocyte migration","tissue":"PT","val":2.64},{"term":"Positive regulation of leukocyte migration","tissue":"IT","val":1.08},
  {"term":"Regulation of lymphocyte activation","tissue":"PT","val":4.12},{"term":"Regulation of lymphocyte activation","tissue":"IT","val":1.27},
  {"term":"Regulation of multi-organism process","tissue":"PT","val":2.13},{"term":"Regulation of multi-organism process","tissue":"IT","val":1.18},
  {"term":"Regulation of symbiosis, encompassing mutualism through parasitism","tissue":"PT","val":2.53},{"term":"Regulation of symbiosis, encompassing mutualism through parasitism","tissue":"IT","val":1.18},
  {"term":"Response to interferon-gamma","tissue":"PT","val":3.49},{"term":"Response to interferon-gamma","tissue":"IT","val":2.5},
  {"term":"T cell activation","tissue":"PT","val":4.25},{"term":"T cell activation","tissue":"IT","val":1.28},
  {"term":"Vesicle lumen","tissue":"PT","val":1.63},{"term":"Vesicle lumen","tissue":"IT","val":1.32}
 ]
},
"align":"none",
"spacing":27,
"resolve":{"scale":{"color":"independent"},"legend":{"color":"independent"}},
"vconcat":[
 {"spacing":39,
  "resolve":{"scale":{"color":"independent"},"legend":{"color":"independent"}},
  "hconcat":[
   {"hconcat":[
     {"width":1,"height":1,"data":{"values":[{"z":0}]},"mark":{"type":"point","opacity":0},"encoding":{}},
     {"spacing":0,
      "title":{"text":"D","offset":-13},
      "vconcat":[
       {"width":158,"height":14,"data":{"values":[{"z":0}]},"mark":{"type":"point","opacity":0},"encoding":{}},
       {"width":158,"height":33,"data":{"name":"sig"},"transform":[{"filter":"datum.p=='dim'"}],
        "layer":[
         {"mark":{"type":"rule","color":"#444","strokeWidth":1},"encoding":{"x":{"field":"a","type":"quantitative","scale":{"domain":[0.4,3.6],"nice":false,"zero":false},"axis":null},"x2":{"field":"b"},"y":{"field":"lvl","type":"quantitative","scale":{"domain":[0.553,2.308],"nice":false,"zero":false},"axis":null}}},
         {"transform":[{"fold":["a","b"],"as":["k","xv"]},{"aggregate":[{"op":"mean","field":"xv","as":"xm"}],"groupby":["lvl","s","id"]}],
          "mark":{"type":"text","baseline":"bottom","dy":-1,"fontSize":10,"color":"#444"},
          "encoding":{"x":{"field":"xm","type":"quantitative"},"y":{"field":"lvl","type":"quantitative"},"text":{"field":"s"}}}
        ]},
       {"width":158,"height":70,"data":{"name":"dv"},"transform":[{"filter":"datum.p=='dim'"}],
        "resolve":{"scale":{"x":"independent"}},
        "encoding":{"y":{"field":"y","type":"quantitative","scale":{"domain":[-0.148,0.227],"nice":false,"zero":false},"axis":{"values":[-0.1,0,0.1,0.2],"format":".1f","title":["CD56ᵈⁱᵐ","signature"],"tickSize":4,"labelFontSize":13,"titleFontSize":13,"titlePadding":5,"labelPadding":2}}},
        "layer":[
         {"transform":[{"filter":"datum.c=='L1'"}],"mark":{"type":"area","orient":"horizontal","interpolate":"monotone","fill":"#F8766D","stroke":"#444","strokeWidth":0.8},
          "encoding":{"x":{"field":"w","type":"quantitative","stack":"center","impute":null,"scale":{"domain":[-0.6522,2.8261],"nice":false,"zero":false},"axis":{"values":[0,1.087,2.174],"labels":false,"tickSize":4,"title":null}}}},
         {"transform":[{"filter":"datum.c=='L2'"}],"mark":{"type":"area","orient":"horizontal","interpolate":"monotone","fill":"#B79F00","stroke":"#444","strokeWidth":0.8},
          "encoding":{"x":{"field":"w","type":"quantitative","stack":"center","impute":null,"scale":{"domain":[-1.7391,1.7391],"nice":false,"zero":false},"axis":null}}},
         {"transform":[{"filter":"datum.c=='L5'"}],"mark":{"type":"area","orient":"horizontal","interpolate":"monotone","fill":"#00BA38","stroke":"#444","strokeWidth":0.8},
          "encoding":{"x":{"field":"w","type":"quantitative","stack":"center","impute":null,"scale":{"domain":[-2.8261,0.6522],"nice":false,"zero":false},"axis":null}}}
        ]},
       {"width":158,"height":41,"data":{"name":"sig"},"transform":[{"filter":"datum.p=='bright'"}],
        "layer":[
         {"mark":{"type":"rule","color":"#444","strokeWidth":1},"encoding":{"x":{"field":"a","type":"quantitative","scale":{"domain":[0.4,3.6],"nice":false,"zero":false},"axis":null},"x2":{"field":"b"},"y":{"field":"lvl","type":"quantitative","scale":{"domain":[0.705,2.829],"nice":false,"zero":false},"axis":null}}},
         {"transform":[{"fold":["a","b"],"as":["k","xv"]},{"aggregate":[{"op":"mean","field":"xv","as":"xm"}],"groupby":["lvl","s","id"]}],
          "mark":{"type":"text","baseline":"bottom","dy":-1,"fontSize":10,"color":"#444"},
          "encoding":{"x":{"field":"xm","type":"quantitative"},"y":{"field":"lvl","type":"quantitative"},"text":{"field":"s"}}}
        ]},
       {"width":158,"height":72,"data":{"name":"dv"},"transform":[{"filter":"datum.p=='bright'"}],
        "resolve":{"scale":{"x":"independent"}},
        "encoding":{"y":{"field":"y","type":"quantitative","scale":{"domain":[-0.14,0.22],"nice":false,"zero":false},"axis":{"values":[-0.1,0,0.1,0.2],"format":".1f","title":["CD56ᵇʳⁱᵍʰᵗ","signature"],"tickSize":4,"labelFontSize":13,"titleFontSize":13,"titlePadding":5,"labelPadding":2}}},
        "layer":[
         {"transform":[{"filter":"datum.c=='L1'"}],"mark":{"type":"area","orient":"horizontal","interpolate":"monotone","fill":"#F8766D","stroke":"#444","strokeWidth":0.8},
          "encoding":{"x":{"field":"w","type":"quantitative","stack":"center","impute":null,"scale":{"domain":[-0.6522,2.8261],"nice":false,"zero":false},"axis":{"values":[0,1.087,2.174],"labelExpr":"datum.value<0.5?'L1-NK':datum.value<1.5?'L2-NK':'L5-LrNK'","tickSize":4,"title":null,"labelFontSize":13,"labelPadding":3}}}},
         {"transform":[{"filter":"datum.c=='L2'"}],"mark":{"type":"area","orient":"horizontal","interpolate":"monotone","fill":"#B79F00","stroke":"#444","strokeWidth":0.8},
          "encoding":{"x":{"field":"w","type":"quantitative","stack":"center","impute":null,"scale":{"domain":[-1.7391,1.7391],"nice":false,"zero":false},"axis":null}}},
         {"transform":[{"filter":"datum.c=='L5'"}],"mark":{"type":"area","orient":"horizontal","interpolate":"monotone","fill":"#00BA38","stroke":"#444","strokeWidth":0.8},
          "encoding":{"x":{"field":"w","type":"quantitative","stack":"center","impute":null,"scale":{"domain":[-2.8261,0.6522],"nice":false,"zero":false},"axis":null}}}
        ]}
      ]}
   ],"spacing":24},
   {"spacing":0,
    "title":{"text":"E","offset":-12},
    "resolve":{"scale":{"color":"independent"},"legend":{"color":"independent"}},
    "vconcat":[
     {"spacing":0,"hconcat":[
       {"width":32,"height":39,"data":{"values":[{"z":0}]},"mark":{"type":"point","opacity":0},"encoding":{}},
       {"width":420,"height":39,"view":{"stroke":"#333","strokeWidth":1.2},"data":{"name":"hdr"},
        "mark":{"type":"text","fontSize":14,"color":"#222"},
        "encoding":{"x":{"field":"col","type":"nominal","sort":null,"scale":{"type":"band","paddingInner":0,"paddingOuter":0},"axis":{"grid":true,"bandPosition":0,"domain":false,"ticks":false,"labels":false,"title":null,"gridColor":"#333","gridWidth":1.2}},"text":{"field":"col"}}}
     ]},
     {"spacing":0,
      "resolve":{"scale":{"color":"shared"},"legend":{"color":"shared"}},
      "hconcat":[
       {"width":32,"height":237,"view":{"stroke":"#333","strokeWidth":1.2},"data":{"values":[{"t":"Top 10"}]},
        "mark":{"type":"text","angle":270,"fontSize":13,"color":"#222"},"encoding":{"text":{"field":"t"}}},
       {"width":420,"height":237,"view":{"stroke":"#333","strokeWidth":1.2},"data":{"name":"genes"},
        "mark":{"type":"text","fontSize":13.5,"fontWeight":"bold","fontStyle":"italic"},
        "encoding":{
         "x":{"field":"col","type":"nominal","sort":null,"scale":{"type":"band","paddingInner":0,"paddingOuter":0},"axis":{"grid":true,"bandPosition":0,"domain":false,"ticks":false,"labels":false,"title":null,"gridColor":"#333","gridWidth":1.2}},
         "y":{"field":"rank","type":"ordinal","scale":{"type":"point","padding":1.62},"axis":null},
         "text":{"field":"gene"},
         "color":{"field":"type","type":"nominal","scale":{"domain":["Secreated","Cell membrane","Transcription factors","Others"],"range":["#D0262F","#F07B28","#4B90D8","#BDBDBD"]},
          "legend":{"orient":"none","legendX":-9,"legendY":244,"direction":"horizontal","title":null,"symbolSize":0,"symbolStrokeWidth":0,"symbolOpacity":0,"labelOffset":0,"columnPadding":31,"labelFontSize":13,
           "encode":{"labels":{"update":{"fill":{"signal":"datum.label=='Secreated'?'#DA2B35':datum.label=='Cell membrane'?'#F07D2B':datum.label=='Transcription factors'?'#5595D9':'#BDBDBD'"}}}}}}
        }}
     ]}
    ]}
 ]},
 {"spacing":0,
  "resolve":{"scale":{"color":"independent"},"legend":{"color":"independent"}},
  "hconcat":[
  {"width":1,"height":1,"data":{"values":[{"z":0}]},"mark":{"type":"point","opacity":0},"encoding":{}},
  {"title":{"text":"F","offset":-13},
  "resolve":{"scale":{"color":"independent"},"legend":{"color":"independent"}},
  "vconcat":[
   {"title":{"text":"Expression level","orient":"left","anchor":"middle","fontSize":14,"fontWeight":"normal","color":"#333","offset":0},
    "resolve":{"scale":{"color":"independent"},"legend":{"color":"independent"}},
    "columns":2,
    "spacing":{"row":17,"column":13},
    "concat":[
   {"title":{"text":"TLE1","anchor":"middle","fontStyle":"italic","fontWeight":"normal","fontSize":13,"color":"#222","offset":10},
    "width":201,"height":58,"data":{"name":"tle1"},
    "resolve":{"scale":{"x":"independent"}},
    "encoding":{
     "y":{"field":"y","type":"quantitative","scale":{"domain":[-0.16,3.92],"nice":false,"zero":false},"axis":{"values":[0,1,2,3],"labels":false,"tickSize":3,"title":null}},
     "color":{"field":"t","type":"nominal","scale":{"domain":["IT","PT"],"range":["#F8766D","#13898D"]},"legend":null}
    },
    "layer":[
     {"transform":[{"filter":"datum.c=='L1'&&datum.t=='IT'"}],"mark":{"type":"area","orient":"horizontal","interpolate":"monotone","stroke":"#3d3d3d","strokeWidth":0.8},"encoding":{"x":{"field":"w","type":"quantitative","stack":"center","impute":null,"scale":{"domain":[-0.375,2.825],"nice":false,"zero":false},"axis":{"values":[0.225,1.225,2.225],"labels":false,"tickSize":3,"title":null}}}},
     {"transform":[{"filter":"datum.c=='L1'&&datum.t=='PT'"}],"mark":{"type":"area","orient":"horizontal","interpolate":"monotone","stroke":"#3d3d3d","strokeWidth":0.8},"encoding":{"x":{"field":"w","type":"quantitative","stack":"center","impute":null,"scale":{"domain":[-0.825,2.375],"nice":false,"zero":false},"axis":null}}},
     {"transform":[{"filter":"datum.c=='L2'&&datum.t=='IT'"}],"mark":{"type":"area","orient":"horizontal","interpolate":"monotone","stroke":"#3d3d3d","strokeWidth":0.8},"encoding":{"x":{"field":"w","type":"quantitative","stack":"center","impute":null,"scale":{"domain":[-1.375,1.825],"nice":false,"zero":false},"axis":null}}},
     {"transform":[{"filter":"datum.c=='L2'&&datum.t=='PT'"}],"mark":{"type":"area","orient":"horizontal","interpolate":"monotone","stroke":"#3d3d3d","strokeWidth":0.8},"encoding":{"x":{"field":"w","type":"quantitative","stack":"center","impute":null,"scale":{"domain":[-1.825,1.375],"nice":false,"zero":false},"axis":null}}},
     {"transform":[{"filter":"datum.c=='L5'&&datum.t=='IT'"}],"mark":{"type":"area","orient":"horizontal","interpolate":"monotone","stroke":"#3d3d3d","strokeWidth":0.8},"encoding":{"x":{"field":"w","type":"quantitative","stack":"center","impute":null,"scale":{"domain":[-2.375,0.825],"nice":false,"zero":false},"axis":null}}},
     {"transform":[{"filter":"datum.c=='L5'&&datum.t=='PT'"}],"mark":{"type":"area","orient":"horizontal","interpolate":"monotone","stroke":"#3d3d3d","strokeWidth":0.8},"encoding":{"x":{"field":"w","type":"quantitative","stack":"center","impute":null,"scale":{"domain":[-2.825,0.375],"nice":false,"zero":false},"axis":null}}}
    ]},
   {"title":{"text":"IFITM1","anchor":"middle","fontStyle":"italic","fontWeight":"normal","fontSize":13,"color":"#222","offset":10},
    "width":201,"height":58,"data":{"name":"ifitm1"},
    "resolve":{"scale":{"x":"independent"}},
    "encoding":{
     "y":{"field":"y","type":"quantitative","scale":{"domain":[-0.16,3.92],"nice":false,"zero":false},"axis":{"values":[0,1,2,3],"labels":false,"tickSize":3,"title":null}},
     "color":{"field":"t","type":"nominal","scale":{"domain":["IT","PT"],"range":["#F8766D","#13898D"]},"legend":{"orient":"none","legendX":232,"legendY":5,"title":null,"symbolType":"square","symbolSize":400,"symbolStrokeColor":"#333","symbolStrokeWidth":1.2,"symbolOpacity":1,"labelFontSize":14,"labelOffset":6,"rowPadding":2,"clipHeight":20}}
    },
    "layer":[
     {"transform":[{"filter":"datum.c=='L1'&&datum.t=='IT'"}],"mark":{"type":"area","orient":"horizontal","interpolate":"monotone","stroke":"#3d3d3d","strokeWidth":0.8},"encoding":{"x":{"field":"w","type":"quantitative","stack":"center","impute":null,"scale":{"domain":[-0.375,2.825],"nice":false,"zero":false},"axis":{"values":[0.225,1.225,2.225],"labels":false,"tickSize":3,"title":null}}}},
     {"transform":[{"filter":"datum.c=='L1'&&datum.t=='PT'"}],"mark":{"type":"area","orient":"horizontal","interpolate":"monotone","stroke":"#3d3d3d","strokeWidth":0.8},"encoding":{"x":{"field":"w","type":"quantitative","stack":"center","impute":null,"scale":{"domain":[-0.825,2.375],"nice":false,"zero":false},"axis":null}}},
     {"transform":[{"filter":"datum.c=='L2'&&datum.t=='IT'"}],"mark":{"type":"area","orient":"horizontal","interpolate":"monotone","stroke":"#3d3d3d","strokeWidth":0.8},"encoding":{"x":{"field":"w","type":"quantitative","stack":"center","impute":null,"scale":{"domain":[-1.375,1.825],"nice":false,"zero":false},"axis":null}}},
     {"transform":[{"filter":"datum.c=='L2'&&datum.t=='PT'"}],"mark":{"type":"area","orient":"horizontal","interpolate":"monotone","stroke":"#3d3d3d","strokeWidth":0.8},"encoding":{"x":{"field":"w","type":"quantitative","stack":"center","impute":null,"scale":{"domain":[-1.825,1.375],"nice":false,"zero":false},"axis":null}}},
     {"transform":[{"filter":"datum.c=='L5'&&datum.t=='IT'"}],"mark":{"type":"area","orient":"horizontal","interpolate":"monotone","stroke":"#3d3d3d","strokeWidth":0.8},"encoding":{"x":{"field":"w","type":"quantitative","stack":"center","impute":null,"scale":{"domain":[-2.375,0.825],"nice":false,"zero":false},"axis":null}}},
     {"transform":[{"filter":"datum.c=='L5'&&datum.t=='PT'"}],"mark":{"type":"area","orient":"horizontal","interpolate":"monotone","stroke":"#3d3d3d","strokeWidth":0.8},"encoding":{"x":{"field":"w","type":"quantitative","stack":"center","impute":null,"scale":{"domain":[-2.825,0.375],"nice":false,"zero":false},"axis":null}}}
    ]},
   {"title":{"text":"S1PR5","anchor":"middle","fontStyle":"italic","fontWeight":"normal","fontSize":13,"color":"#222","offset":6},
    "width":201,"height":58,"data":{"name":"s1pr5"},
    "resolve":{"scale":{"x":"independent"}},
    "encoding":{
     "y":{"field":"y","type":"quantitative","scale":{"domain":[-0.16,3.92],"nice":false,"zero":false},"axis":{"values":[0,1,2,3],"tickSize":3,"labelFontSize":13,"labelPadding":2,"title":null}},
     "color":{"field":"t","type":"nominal","scale":{"domain":["IT","PT"],"range":["#F8766D","#13898D"]},"legend":null}
    },
    "layer":[
     {"transform":[{"filter":"datum.c=='L1'&&datum.t=='IT'"}],"mark":{"type":"area","orient":"horizontal","interpolate":"monotone","stroke":"#3d3d3d","strokeWidth":0.8},"encoding":{"x":{"field":"w","type":"quantitative","stack":"center","impute":null,"scale":{"domain":[-0.375,2.825],"nice":false,"zero":false},"axis":{"values":[0.225,1.225,2.225],"labelExpr":"datum.value<0.5?'L1-NK':datum.value<1.5?'L2-NK':'L5-LrNK'","tickSize":3,"title":null,"labelFontSize":13,"labelPadding":8}}}},
     {"transform":[{"filter":"datum.c=='L1'&&datum.t=='PT'"}],"mark":{"type":"area","orient":"horizontal","interpolate":"monotone","stroke":"#3d3d3d","strokeWidth":0.8},"encoding":{"x":{"field":"w","type":"quantitative","stack":"center","impute":null,"scale":{"domain":[-0.825,2.375],"nice":false,"zero":false},"axis":null}}},
     {"transform":[{"filter":"datum.c=='L2'&&datum.t=='IT'"}],"mark":{"type":"area","orient":"horizontal","interpolate":"monotone","stroke":"#3d3d3d","strokeWidth":0.8},"encoding":{"x":{"field":"w","type":"quantitative","stack":"center","impute":null,"scale":{"domain":[-1.375,1.825],"nice":false,"zero":false},"axis":null}}},
     {"transform":[{"filter":"datum.c=='L2'&&datum.t=='PT'"}],"mark":{"type":"area","orient":"horizontal","interpolate":"monotone","stroke":"#3d3d3d","strokeWidth":0.8},"encoding":{"x":{"field":"w","type":"quantitative","stack":"center","impute":null,"scale":{"domain":[-1.825,1.375],"nice":false,"zero":false},"axis":null}}},
     {"transform":[{"filter":"datum.c=='L5'&&datum.t=='IT'"}],"mark":{"type":"area","orient":"horizontal","interpolate":"monotone","stroke":"#3d3d3d","strokeWidth":0.8},"encoding":{"x":{"field":"w","type":"quantitative","stack":"center","impute":null,"scale":{"domain":[-2.375,0.825],"nice":false,"zero":false},"axis":null}}},
     {"transform":[{"filter":"datum.c=='L5'&&datum.t=='PT'"}],"mark":{"type":"area","orient":"horizontal","interpolate":"monotone","stroke":"#3d3d3d","strokeWidth":0.8},"encoding":{"x":{"field":"w","type":"quantitative","stack":"center","impute":null,"scale":{"domain":[-2.825,0.375],"nice":false,"zero":false},"axis":null}}}
    ]},
   {"title":{"text":"TIGIT","anchor":"middle","fontStyle":"italic","fontWeight":"normal","fontSize":13,"color":"#222","offset":6},
    "width":201,"height":58,"data":{"name":"tigit"},
    "resolve":{"scale":{"x":"independent"}},
    "encoding":{
     "y":{"field":"y","type":"quantitative","scale":{"domain":[-0.16,3.92],"nice":false,"zero":false},"axis":{"values":[0,1,2,3],"labels":false,"tickSize":3,"title":null}},
     "color":{"field":"t","type":"nominal","scale":{"domain":["IT","PT"],"range":["#F8766D","#13898D"]},"legend":null}
    },
    "layer":[
     {"transform":[{"filter":"datum.c=='L1'&&datum.t=='IT'"}],"mark":{"type":"area","orient":"horizontal","interpolate":"monotone","stroke":"#3d3d3d","strokeWidth":0.8},"encoding":{"x":{"field":"w","type":"quantitative","stack":"center","impute":null,"scale":{"domain":[-0.375,2.825],"nice":false,"zero":false},"axis":{"values":[0.225,1.225,2.225],"labelExpr":"datum.value<0.5?'L1-NK':datum.value<1.5?'L2-NK':'L5-LrNK'","tickSize":3,"title":null,"labelFontSize":13,"labelPadding":8}}}},
     {"transform":[{"filter":"datum.c=='L1'&&datum.t=='PT'"}],"mark":{"type":"area","orient":"horizontal","interpolate":"monotone","stroke":"#3d3d3d","strokeWidth":0.8},"encoding":{"x":{"field":"w","type":"quantitative","stack":"center","impute":null,"scale":{"domain":[-0.825,2.375],"nice":false,"zero":false},"axis":null}}},
     {"transform":[{"filter":"datum.c=='L2'&&datum.t=='IT'"}],"mark":{"type":"area","orient":"horizontal","interpolate":"monotone","stroke":"#3d3d3d","strokeWidth":0.8},"encoding":{"x":{"field":"w","type":"quantitative","stack":"center","impute":null,"scale":{"domain":[-1.375,1.825],"nice":false,"zero":false},"axis":null}}},
     {"transform":[{"filter":"datum.c=='L2'&&datum.t=='PT'"}],"mark":{"type":"area","orient":"horizontal","interpolate":"monotone","stroke":"#3d3d3d","strokeWidth":0.8},"encoding":{"x":{"field":"w","type":"quantitative","stack":"center","impute":null,"scale":{"domain":[-1.825,1.375],"nice":false,"zero":false},"axis":null}}},
     {"transform":[{"filter":"datum.c=='L5'&&datum.t=='IT'"}],"mark":{"type":"area","orient":"horizontal","interpolate":"monotone","stroke":"#3d3d3d","strokeWidth":0.8},"encoding":{"x":{"field":"w","type":"quantitative","stack":"center","impute":null,"scale":{"domain":[-2.375,0.825],"nice":false,"zero":false},"axis":null}}},
     {"transform":[{"filter":"datum.c=='L5'&&datum.t=='PT'"}],"mark":{"type":"area","orient":"horizontal","interpolate":"monotone","stroke":"#3d3d3d","strokeWidth":0.8},"encoding":{"x":{"field":"w","type":"quantitative","stack":"center","impute":null,"scale":{"domain":[-2.825,0.375],"nice":false,"zero":false},"axis":null}}}
    ]}
    ]}
  ]}
 ]},
 {"spacing":0,
  "resolve":{"scale":{"color":"independent"},"legend":{"color":"independent"}},
  "hconcat":[
  {"width":1,"height":1,"data":{"values":[{"z":0}]},"mark":{"type":"point","opacity":0},"encoding":{}},
  {"title":{"text":"G","offset":-31},
  "width":325,"height":299,"data":{"name":"go"},
  "mark":{"type":"bar"},
  "encoding":{
   "y":{"field":"term","type":"nominal","sort":null,"scale":{"paddingInner":0.4,"paddingOuter":0.19},"axis":{"title":null,"labelFontSize":13.7,"labelColor":"#222","domainColor":"#111","domainWidth":2,"tickColor":"#111","tickWidth":2,"tickSize":6,"labelPadding":3,"minExtent":457,"maxExtent":457,"labelLimit":470}},
   "yOffset":{"field":"tissue","type":"nominal","sort":["PT","IT"],"scale":{"paddingInner":0.15}},
   "x":{"field":"val","type":"quantitative","scale":{"domain":[0,6],"nice":false},"axis":{"values":[0,2,4,6],"title":"−log10 (P-value)","titleFontSize":13,"labelFontSize":13,"domainColor":"#111","domainWidth":2,"tickColor":"#111","tickWidth":2,"tickSize":5,"labelPadding":1,"titlePadding":4,"labelColor":"#222","titleColor":"#222"}},
   "color":{"field":"tissue","type":"nominal","scale":{"domain":["IT","PT"],"range":["#F47C7C","#35BFCE"]},"legend":{"orient":"none","legendX":232,"legendY":220,"title":null,"symbolType":"M-1,-0.44H1V0.44H-1Z","symbolSize":324,"symbolStrokeWidth":0,"symbolOpacity":1,"labelFontSize":14,"labelOffset":8,"rowPadding":3,"clipHeight":18,"labelColor":"#222"}}
  }}
 ]}
]
}
